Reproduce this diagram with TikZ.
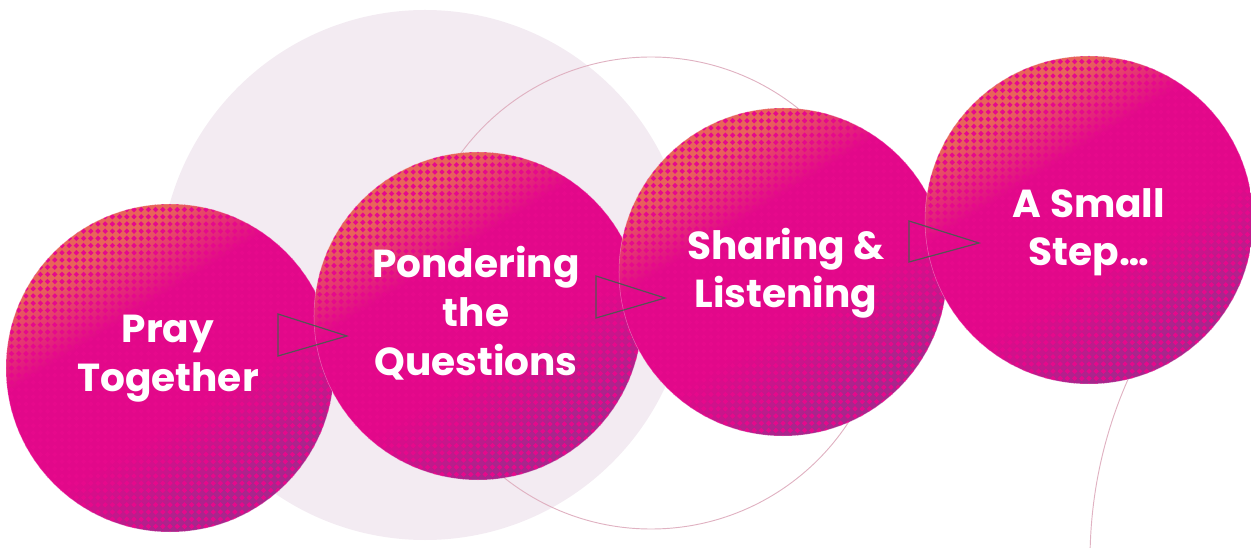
\documentclass[tikz,border=0pt]{standalone}
\usepackage{fontspec}
\setmainfont{Poppins}
\definecolor{borange}{HTML}{E8645A}
\definecolor{bmag}{HTML}{E2088A}
\definecolor{bpurple}{HTML}{A8268C}
\definecolor{bdot}{HTML}{E6098C}
\definecolor{lightbg}{HTML}{F3EBF2}
\definecolor{thinline}{HTML}{E0B2C2}
\definecolor{trigray}{HTML}{555555}
\pgfdeclareverticalshading{ballshade}{100bp}{color(0bp)=(bpurple); color(29bp)=(bpurple); color(43bp)=(bmag); color(60bp)=(bmag); color(71bp)=(borange); color(100bp)=(borange)}
\tikzset{
  ballnode/.style={circle, minimum size=246pt, inner sep=0pt},
  lbl/.style={text=white, font=\fontsize{29.3}{36}\selectfont\bfseries, inner sep=0pt, anchor=base},
  tri/.style={draw=trigray, line width=0.9pt, line join=miter},
  thin/.style={draw=thinline, line width=0.7pt}
}
\newcommand\mkball[1]{%
  \begin{scope}[shift={(#1.center)}]
    \clip (0,0) circle[radius=164];
    \shade[shading=ballshade, shading angle=32] (0,0) circle[radius=164];
    \fill[bdot] \foreach \i in {-23,...,23}{\foreach \j in {-23,...,23}{ (\i*7.2,\j*7.2) +(0,2.7) -- +(2.7,0) -- +(0,-2.7) -- +(-2.7,0) -- cycle }};
  \end{scope}
  \draw[white, opacity=0.35, line width=0.4pt] (#1.center) circle[radius=164];
}
\begin{document}
\begin{tikzpicture}[x=0.75pt, y=-0.75pt]
  \useasboundingbox (0,0) rectangle (1251,548);
  \clip (0,0) rectangle (1251,548);
  % background circles
  \fill[lightbg] (425,275) circle[radius=265];
  \draw[thin] (651,293) circle[radius=236];
  \draw[thin] (1537,560) circle[radius=447];
  % step circles
  \node[ballnode] (c1) at (170,368) {};
  \node[ballnode] (c2) at (478,316) {};
  \node[ballnode] (c3) at (783,272) {};
  \node[ballnode] (c4) at (1089,220) {};
  \mkball{c1}
  \mkball{c2}
  \mkball{c3}
  \mkball{c4}
  % triangles
  \draw[tri] (278,314) -- (278,356) -- (347,336) -- cycle;
  \draw[tri] (596,276) -- (596,318) -- (665,298) -- cycle;
  \draw[tri] (909,221) -- (909,262) -- (979,243) -- cycle;
  % labels
  \node[lbl] (t1a) at (168,343) {Pray};
  \node[lbl] (t1b) at (168,392) {Together};
  \node[lbl] (t2a) at (476,278) {Pondering};
  \node[lbl] (t2b) at (476,326.5) {the};
  \node[lbl] (t2c) at (476,375) {Questions};
  \node[lbl] (t3a) at (786,260) {Sharing \&};
  \node[lbl] (t3b) at (786,308) {Listening};
  \node[lbl] (t4a) at (1089,218) {A Small};
  \node[lbl] (t4b) at (1089,266) {Step…};
\end{tikzpicture}
\end{document}
